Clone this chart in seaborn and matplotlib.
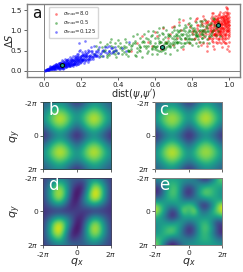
import numpy as np
import pandas as pd
import matplotlib
matplotlib.use("Agg")
import matplotlib.pyplot as plt
import seaborn as sns

red_x = [.91, .932, .951, .973, .991, .924, .943, .962, .984, 1.0, .903, .935, .955, .977, .993, .921, .946, .966, .981, .996,
         .885, .902, .915, .928, .941, .953, .967, .978, .989, .998, .893, .908, .922, .937, .948, .959, .971, .983, .992, .999,
         .88, .897, .912, .926, .939, .957, .969, .986, .994, .975, .905, .918, .931, .944, .952, .964, .979, .987, .997, .99,
         .87, .89, .914, .929, .942, .956, .968, .982, .995, .958, .9, .917, .934, .949, .961, .974, .985, .993, .976, .988,
         .908, .923, .936, .947, .963, .972, .98, .991, .998, .969, .895, .919, .938, .954, .965, .983, .996, .989, .977, .94,
         .86, .875, .885, .899, .91, .925, .945, .96, .97, .99, .84, .852, .865, .878, .892, .905, .92, .935, .95, .98,
         .965, .975, .985, .995, .955, .945, .935, .925, .915, .905, .968, .978, .988, .998, .958, .948, .938, .928, .918, .99,
         .82, .83, .845, .858, .868, .882, .896, .79, .805, .815, .76, .775, .74, .72, .7, .68, .66, .64, .61, .58,
         .78, .8, .825, .85, .873, .75, .73, .695, .67, .63, .6, .56, .53, .5, .47, .69, .75, .83, .86, .88,
         .962, .972, .982, .992, .952, .942, .932, .922, .912, .902, .966, .976, .986, .996, .956, .946, .936, .926, .916, .906,
         .961, .971, .981, .991, .951, .941, .931, .921, .911, .901, .963, .973, .983, .993, .953, .943, .933, .923, .913, .997,
         .964, .974, .984, .994, .954, .944, .934, .924, .914, .904, .967, .977, .987, .997, .957, .947, .937, .927, .917, .907,
         .96, .97, .98, .99, .95, .94, .93, .92, .998, .988, .969, .979, .989, .999, .959, .949, .939, .929, .919, .909,
         .894, .884, .874, .864, .854, .844, .834, .824, .814, .804, .898, .888, .878, .868, .858, .848, .838, .828, .818, .808]
red_y = [1.02, 1.08, .95, 1.15, 1.22, .88, 1.18, 1.05, .92, 1.12, 1.0, 1.25, 1.32, .85, 1.05, 1.12, .98, 1.28, 1.35, .9,
         1.05, 1.15, .92, 1.03, 1.22, 1.1, .98, 1.19, 1.3, 1.02, .82, .98, 1.1, .96, 1.32, .86, 1.38, 1.02, .88, 1.25,
         1.2, 1.08, 1.24, .82, 1.02, 1.25, 1.12, 1.42, 1.15, 1.26, .75, 1.3, 1.14, .78, .98, 1.34, .78, 1.22, .72, 1.46,
         .95, .9, .72, 1.28, 1.12, .7, 1.42, .95, 1.3, 1.16, 1.2, 1.02, 1.35, .9, 1.2, 1.02, 1.1, .62, 1.44, 1.52,
         1.36, .92, .68, 1.4, .82, 1.3, 1.18, 1.0, 1.42, .72, 1.0, 1.18, 1.22, 1.06, 1.04, .68, .85, 1.28, .68, .9,
         1.02, 1.22, .78, 1.3, .62, 1.2, 1.05, .6, .9, 1.55, .85, 1.12, 1.28, .7, 1.12, 1.42, .55, 1.15, 1.45, 1.58,
         1.25, 1.35, .82, 1.1, 1.3, 1.24, .88, 1.36, 1.16, .88, .95, 1.1, 1.02, 1.2, .78, 1.02, 1.3, 1.1, 1.02, .55,
         .95, 1.12, .65, .92, 1.18, .62, .8, 1.08, .9, 1.22, .78, 1.15, 1.0, .82, 1.1, .92, .72, 1.05, .85, .62,
         .68, .95, 1.3, .98, .92, .55, 1.2, .65, .8, .55, .95, .72, .85, .68, .5, 1.08, 1.25, 1.02, 1.35, .5,
         1.08, 1.2, 1.3, .98, 1.16, .95, 1.12, .98, 1.25, 1.05, .75, .88, 1.15, .5, 1.02, .82, 1.0, .72, .88, .95,
         1.15, 1.24, 1.12, 1.2, .92, 1.12, 1.28, 1.2, .82, 1.12, .9, .8, 1.06, 1.38, 1.2, 1.38, 1.05, .9, 1.08, 1.12,
         1.32, 1.05, 1.25, .8, 1.15, .72, 1.2, 1.28, 1.42, .98, 1.06, 1.18, .98, 1.32, .95, 1.15, .78, 1.22, .92, 1.26,
         .85, 1.28, 1.36, 1.4, 1.05, 1.3, .94, 1.06, .95, 1.08, 1.22, .92, 1.2, 1.05, 1.36, .88, 1.2, .85, 1.22, .78,
         .95, 1.24, 1.1, .84, 1.18, .96, .72, 1.14, .82, 1.02, 1.12, .84, 1.18, 1.04, .68, 1.24, .9, 1.06, 1.28, .78]

green_x = [.27, .29, .31, .33, .35, .36, .38, .39, .41, .42, .44, .45, .47, .48, .5, .51, .53, .54, .56, .57,
           .28, .3, .32, .34, .37, .4, .43, .46, .49, .52, .55, .58, .59, .6, .61, .62, .63, .64, .65, .66,
           .67, .68, .69, .7, .71, .72, .73, .74, .75, .76, .77, .78, .79, .8, .81, .82, .83, .84, .85, .86,
           .6, .62, .64, .66, .68, .7, .72, .74, .76, .78, .8, .82, .84, .86, .88, .9, .92, .94, .87, .89,
           .61, .63, .65, .67, .69, .71, .73, .75, .77, .79, .81, .83, .85, .87, .89, .91, .93, .88, .9, .92,
           .33, .36, .39, .42, .45, .48, .51, .54, .57, .6, .63, .66, .69, .72, .75, .78, .81, .84, .87, .9,
           .35, .38, .41, .44, .47, .5, .53, .56, .59, .62, .65, .68, .71, .74, .77, .8, .83, .86, .89, .93,
           .52, .54, .56, .58, .6, .62, .64, .66, .68, .7, .72, .74, .76, .78, .8, .82, .84, .86, .7, .73,
           .725, .745, .765, .785, .805, .825, .845, .865, .885, .905, .755, .775, .795, .815, .835, .855, .735, .715, .695, .675,
           .3, .37, .43, .49, .55, .61, .67, .73, .79, .85, .91, .95, .46, .58, .64, .7, .76, .82, .88, .94,
           .31, .34, .37, .4, .43, .46, .49, .52, .55, .58, .61, .64, .67, .7, .73, .76, .79, .82, .85, .88,
           .705, .715, .735, .755, .765, .785, .795, .815, .825, .845, .855, .875, .665, .675, .645, .655, .625, .635, .605, .615,
           .325, .355, .385, .415, .435, .455, .475, .495, .515, .535, .555, .575, .595, .34, .4, .44, .5, .56, .62, .68]
green_y = [.42, .55, .38, .62, .45, .78, .52, .35, .68, .42, .72, .38, .55, .85, .46, .65, .34, .92, .5, .75,
           .62, .72, .48, .4, .58, .44, .56, .66, .4, .82, .62, .42, .98, .7, .52, .88, .6, .78, .45, 1.02,
           .75, .58, .95, .66, .85, .52, 1.12, .78, .62, .98, .72, 1.18, .68, .9, .78, 1.2, .62, 1.0, .82, 1.1,
           .82, .48, .92, .6, .7, 1.08, .88, .68, 1.12, .82, .64, .95, 1.22, .72, 1.05, .85, 1.12, .98, 1.25, .68,
           .62, .72, .55, .85, .66, .92, .72, 1.02, .85, .98, 1.05, .78, .9, .95, .85, 1.02, .88, 1.12, .92, 1.28,
           .52, .62, .5, .52, .48, .7, .52, .62, .68, .55, .5, .7, .82, .72, .9, .88, .98, 1.1, .85, 1.18,
           .4, .68, .56, .42, .62, .56, .72, .78, .62, .68, .72, .62, .78, .92, .78, 1.05, .85, .98, 1.15, 1.05,
           .58, .72, .62, .88, .6, .75, .55, .68, .85, .78, .72, .58, .82, .72, .78, .88, .72, .88, 1.0, .85,
           .95, .88, .92, 1.02, .98, .85, .92, 1.02, .98, .95, 1.05, .95, .78, .92, .98, .8, 1.0, .68, .72, .65,
           .36, .48, .62, .75, .56, .42, .9, 1.28, 1.3, 1.24, 1.3, .85, .5, .55, 1.08, .6, .7, .7, .78, 1.2,
           .58, .66, .44, .62, .46, .5, .7, .48, .8, .56, .95, .52, .62, .86, .98, .8, 1.1, .86, 1.02, .98,
           .72, 1.0, .82, .7, 1.08, .78, 1.12, 1.02, .9, 1.15, .96, 1.08, .68, .88, .66, .84, .72, .94, .58, .8,
           .48, .72, .42, .6, .78, .52, .64, .36, .58, .74, .44, .86, .62, .34, .76, .58, .9, .98, 1.06, .42]

blue_x = [.004, .008, .012, .016, .02, .024, .028, .032, .036, .04, .044, .048, .052, .056, .06, .064, .068, .072, .076, .08,
          .006, .01, .014, .018, .022, .026, .03, .034, .038, .042, .046, .05, .054, .058, .062, .066, .07, .074, .078, .082,
          .085, .09, .095, .1, .105, .11, .115, .12, .125, .13, .135, .14, .145, .15, .155, .16, .165, .17, .175, .18,
          .087, .092, .097, .102, .107, .112, .117, .122, .127, .132, .137, .142, .147, .152, .157, .162, .167, .172, .177, .182,
          .03, .04, .05, .06, .07, .08, .09, .1, .11, .12, .13, .14, .15, .16, .17, .18, .19, .2, .21, .22,
          .035, .045, .055, .065, .075, .085, .095, .105, .115, .125, .135, .145, .155, .165, .175, .185, .195, .205, .215, .225,
          .185, .19, .195, .2, .205, .21, .215, .22, .225, .23, .235, .24, .245, .25, .255, .26, .265, .27, .275, .28,
          .188, .198, .208, .218, .228, .238, .248, .258, .268, .278, .288, .298, .308, .318, .328, .338, .348, .358, .368, .378,
          .015, .025, .033, .043, .053, .063, .073, .083, .093, .103, .113, .123, .133, .143, .153, .163, .173, .183, .193, .203,
          .285, .29, .295, .3, .31, .32, .33, .34, .35, .36, .37, .38, .39, .4, .42, .44, .46, .19, .22, .35,
          .02, .03, .04, .05, .06, .07, .08, .09, .1, .11, .12, .13, .14, .15, .16, .17, .18, .2, .24, .26,
          .088, .098, .108, .118, .128, .138, .148, .158, .168, .178, .086, .096, .106, .116, .126, .136, .146, .156, .166, .176,
          .192, .202, .212, .222, .232, .242, .252, .262, .272, .282, .194, .204, .214, .224, .234, .244, .254, .264, .274, .284,
          .047, .057, .067, .077, .087, .097, .107, .117, .127, .137, .049, .059, .069, .079, .089, .099, .109, .119, .129, .139,
          .152, .162, .172, .182, .192, .202, .212, .222, .232, .242, .154, .164, .174, .184, .194, .204, .214, .224, .234, .244]
blue_y = [.01, .03, .02, .05, .04, .07, .03, .08, .06, .11, .05, .12, .07, .14, .09, .16, .08, .18, .1, .2,
          .02, .015, .04, .03, .06, .05, .09, .05, .1, .07, .13, .08, .15, .1, .06, .17, .12, .08, .2, .13,
          .1, .22, .14, .25, .12, .18, .28, .15, .22, .3, .18, .26, .16, .33, .22, .28, .38, .2, .3, .24,
          .18, .12, .27, .16, .22, .3, .18, .26, .14, .22, .34, .2, .28, .24, .36, .18, .26, .32, .42, .22,
          .04, .06, .11, .08, .15, .11, .18, .2, .15, .18, .24, .15, .26, .2, .25, .3, .25, .32, .28, .36,
          .07, .1, .05, .13, .09, .16, .12, .16, .24, .12, .2, .3, .18, .32, .22, .36, .3, .26, .4, .3,
          .42, .28, .52, .36, .24, .42, .3, .5, .34, .28, .46, .32, .4, .58, .3, .44, .38, .62, .36, .46,
          .48, .36, .3, .44, .38, .52, .34, .5, .42, .38, .46, .6, .44, .52, .46, .58, .5, .44, .56, .5,
          .02, .05, .04, .09, .11, .13, .1, .14, .2, .1, .13, .27, .14, .22, .12, .24, .16, .34, .2, .4,
          .4, .52, .34, .42, .5, .38, .6, .45, .5, .56, .46, .6, .52, .44, .56, .5, .72, .7, .75, .62,
          .03, .12, .09, .05, .12, .1, .06, .09, .08, .14, .1, .16, .12, .18, .16, .14, .18, .22, .26, .34,
          .08, .1, .07, .21, .12, .24, .14, .18, .32, .34, .2, .08, .2, .12, .19, .13, .22, .26, .23, .28,
          .33, .28, .4, .26, .44, .36, .48, .34, .4, .5, .26, .46, .34, .4, .3, .5, .36, .3, .42, .36,
          .1, .04, .1, .14, .06, .11, .22, .09, .2, .16, .06, .12, .15, .07, .1, .06, .16, .2, .18, .12,
          .14, .16, .36, .3, .34, .26, .36, .24, .38, .3, .28, .22, .28, .18, .22, .3, .2, .42, .22, .38]

marker_x = [.095, .635, .94]
marker_y = [.15, .6, 1.12]

legend_names = [r"$\sigma_{\max}$=8.0", r"$\sigma_{\max}$=0.5", r"$\sigma_{\max}$=0.125"]
legend_colors = ["red", "green", "blue"]

grid_b = [[.25, .38, .48, .3, .05, .3, .48, .38, .25],
          [.38, .62, .8, .62, .4, .62, .8, .62, .38],
          [.48, .8, 1.0, .8, .48, .8, 1.0, .8, .48],
          [.28, .62, .8, .62, .25, .62, .8, .62, .28],
          [.05, .26, .48, .26, .0, .26, .48, .26, .05],
          [.28, .62, .8, .62, .25, .62, .8, .62, .28],
          [.48, .8, 1.0, .8, .48, .8, 1.0, .8, .48],
          [.38, .62, .8, .62, .4, .62, .8, .62, .38],
          [.25, .38, .48, .3, .05, .3, .48, .38, .25]]
grid_c = [[.27, .4, .48, .32, .05, .33, .52, .4, .27],
          [.4, .63, .78, .63, .4, .65, .84, .64, .4],
          [.5, .8, .93, .8, .48, .82, .98, .8, .48],
          [.3, .63, .8, .63, .25, .62, .8, .62, .28],
          [.05, .26, .48, .26, .0, .26, .48, .26, .05],
          [.28, .62, .8, .62, .25, .63, .8, .63, .3],
          [.48, .8, 1.0, .82, .48, .8, .93, .8, .5],
          [.4, .64, .84, .65, .4, .63, .78, .63, .4],
          [.27, .4, .52, .33, .05, .32, .48, .4, .27]]
grid_d = [[.2, .26, .34, .4, .36, .28, .3, .34, .4, .42, .36, .26, .18],
          [.2, .34, .56, .66, .52, .3, .22, .16, .44, .7, .62, .38, .18],
          [.2, .44, .76, .86, .64, .26, .06, .1, .54, .92, .84, .5, .18],
          [.18, .48, .8, .92, .68, .2, .0, .2, .68, 1.0, .9, .5, .16],
          [.18, .4, .72, .82, .54, .14, .04, .34, .66, .9, .78, .44, .16],
          [.16, .28, .42, .48, .3, .1, .14, .28, .42, .5, .42, .26, .14],
          [.14, .16, .16, .16, .14, .18, .2, .18, .14, .16, .16, .16, .14],
          [.14, .26, .42, .5, .42, .28, .14, .1, .3, .48, .42, .28, .16],
          [.16, .44, .78, .9, .66, .34, .04, .14, .54, .82, .72, .4, .18],
          [.16, .5, .9, 1.0, .68, .2, .0, .2, .68, .92, .8, .48, .18],
          [.18, .5, .84, .92, .54, .1, .06, .26, .64, .86, .76, .44, .2],
          [.18, .38, .62, .7, .44, .16, .22, .3, .52, .66, .56, .34, .2],
          [.18, .26, .36, .42, .4, .34, .3, .28, .36, .4, .34, .26, .2]]
grid_e = [[.54, .56, .58, .56, .56, .54, .52, .42, .2, .05, .24, .66, .85],
          [.38, .44, .6, .68, .62, .5, .44, .5, .44, .38, .54, .68, .72],
          [.14, .24, .56, .74, .7, .34, .18, .34, .6, .74, .7, .6, .54],
          [.14, .26, .6, .76, .68, .3, .14, .36, .66, .8, .7, .6, .5],
          [.44, .48, .6, .66, .62, .44, .38, .44, .44, .52, .6, .6, .56],
          [.85, .7, .54, .5, .58, .62, .78, .62, .24, .12, .44, .76, 1.0],
          [.96, .78, .48, .18, .36, .9, .62, .94, .44, .38, .6, .82, .98],
          [.68, .6, .36, .12, .3, .58, .62, .6, .54, .54, .58, .6, .68],
          [.52, .56, .54, .5, .6, .52, .38, .48, .64, .7, .52, .2, .26],
          [.48, .58, .68, .76, .64, .38, .14, .3, .66, .76, .6, .26, .14],
          [.54, .6, .7, .74, .6, .34, .18, .34, .64, .7, .54, .24, .14],
          [.72, .68, .54, .34, .44, .5, .44, .5, .64, .68, .6, .44, .38],
          [.85, .66, .24, .05, .2, .42, .52, .54, .56, .56, .58, .56, .54]]

W, H = 243, 272
GRAY = "#808080"


def pixel_axes(fig, left, top, right, bottom):
    """ create axes from pixel edges, measured from the top left corner """
    return fig.add_axes([left / W, 1 - bottom / H, (right - left) / W, (bottom - top) / H])


def scatter_series(ax, x, y, name, color):
    """ draw one cloud of observations """
    frame = pd.DataFrame({"x": x, "y": y})
    sns.scatterplot(data=frame, x="x", y="y", ax=ax, s=3.6, color=color, alpha=0.5,
                    linewidth=0, label=name)


def field_panel(ax, grid, letter, edge, show_x, show_y):
    """ draw one q-space map
    :param grid: values on evenly spaced nodes from -2pi to 2pi
    """
    half = 2 * np.pi / (len(grid) - 1)
    ax.imshow(grid, cmap="viridis", interpolation="bicubic", aspect="auto",
              extent=[-2 * np.pi - half, 2 * np.pi + half, 2 * np.pi + half, -2 * np.pi - half])
    ax.set_xlim(-2 * np.pi, 2 * np.pi)
    ax.set_ylim(2 * np.pi, -2 * np.pi)
    ax.set_xticks([-2 * np.pi, 0, 2 * np.pi])
    ax.set_yticks([-2 * np.pi, 0, 2 * np.pi])
    ax.set_xticklabels([r"-2$\pi$", "0", r"2$\pi$"] if show_x else [])
    ax.set_yticklabels([r"-2$\pi$", "0", r"2$\pi$"])
    ax.tick_params(labelsize=5.4, length=2, width=0.5, pad=1.5, left=True, bottom=True)
    for spine in ax.spines.values():
        spine.set_color(edge)
        spine.set_linewidth(0.7)
    ax.text(0.07, 0.885, letter, transform=ax.transAxes, color="white", fontsize=12, va="center")
    if show_x:
        ax.set_xlabel(r"$q_x$", fontsize=8)
        ax.xaxis.set_label_coords(0.5, -0.17)
    if show_y:
        ax.set_ylabel(r"$q_y$", fontsize=8)
        ax.yaxis.set_label_coords(-0.3, 0.5)


sns.set_style("white")
plt.rcParams["font.family"] = ["DejaVu Sans"]
plt.rcParams["mathtext.fontset"] = "dejavusans"

fig = plt.figure(figsize=(W / 100, H / 100), dpi=100)

ax = pixel_axes(fig, 26.7, 3.7, 240, 77.3)
ax.axhline(0, color=GRAY, linewidth=0.7, zorder=1)
ax.axvline(0, color=GRAY, linewidth=0.7, zorder=1)
scatter_series(ax, red_x, red_y, legend_names[0], legend_colors[0])
scatter_series(ax, green_x, green_y, legend_names[1], legend_colors[1])
scatter_series(ax, blue_x, blue_y, legend_names[2], legend_colors[2])
ax.scatter(marker_x, marker_y, s=10, marker="h", color="#1fa58a", edgecolor="black", linewidth=0.7, zorder=5)
ax.set_xlim(-0.095, 1.058)
ax.set_ylim(-0.155, 1.655)
ax.set_xticks([0, .2, .4, .6, .8, 1.0])
ax.set_yticks([0, .5, 1.0, 1.5])
ax.tick_params(left=True, bottom=True, labelsize=5.2, length=2, width=0.5, pad=1.5, colors="#222222")
ax.set_xlabel(r"dist($\psi$,$\psi'$)", fontsize=7)
ax.set_ylabel(r"$\Delta S$", fontsize=7)
ax.xaxis.set_label_coords(0.5, -0.135)
ax.yaxis.set_label_coords(-0.055, 0.5)
for spine in ax.spines.values():
    spine.set_color(GRAY)
    spine.set_linewidth(1.0)
ax.text(0.025, 0.87, "a", transform=ax.transAxes, fontsize=11, va="center", color="#111111")
ax.legend(loc="upper left", bbox_to_anchor=(0.105, 0.95), fontsize=3.9, frameon=True, framealpha=0.8,
          borderpad=0.3, labelspacing=0.05, handletextpad=0.3, borderaxespad=0, markerscale=1.0)

field_panel(pixel_axes(fig, 43.3, 102.3, 110.7, 169), grid_b, "b", "#2a4a4a", False, True)
field_panel(pixel_axes(fig, 154.7, 102.3, 222.3, 169), grid_c, "c", GRAY, False, False)
field_panel(pixel_axes(fig, 43.3, 177.7, 110.7, 245), grid_d, "d", "#404060", True, True)
field_panel(pixel_axes(fig, 154.7, 177.7, 222.3, 245), grid_e, "e", GRAY, True, False)

fig.savefig("out.png", dpi=100)
